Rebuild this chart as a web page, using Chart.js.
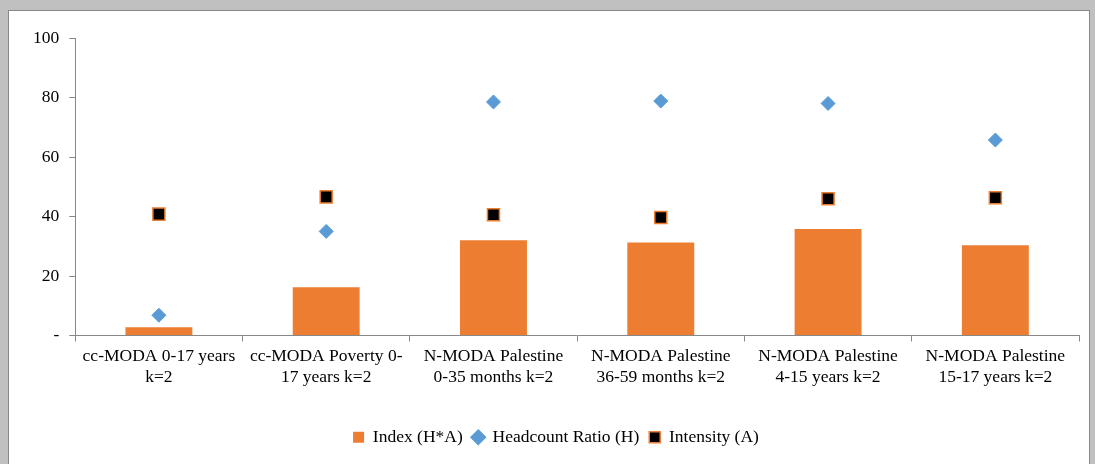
<!DOCTYPE html>
<html>
<head>
<meta charset="utf-8">
<script src="https://cdn.jsdelivr.net/npm/chart.js@4"></script>
<style>
  body { margin: 0; background: #c0c0c0; width: 1095px; height: 464px; overflow: hidden; }
  #box { position: absolute; left: 8px; top: 10px; width: 1080px; height: 470px; background: #fff; border: 1px solid #888; }
  #wrap { position: absolute; left: 0; top: 0; width: 1080px; height: 454px; }
</style>
</head>
<body>
<div id="box"><div id="wrap"><canvas id="c"></canvas></div></div>
<script>
// カテゴリと系列データ
const categories = [
  ["cc-MODA 0-17 years", "k=2"],
  ["cc-MODA Poverty 0-", "17 years k=2"],
  ["N-MODA Palestine", "0-35 months k=2"],
  ["N-MODA Palestine", "36-59 months k=2"],
  ["N-MODA Palestine", "4-15 years k=2"],
  ["N-MODA Palestine", "15-17 years k=2"]
];
const indexValues = [2.8, 16.2, 32.0, 31.3, 35.8, 30.3];
const headcountValues = [6.8, 35.0, 78.5, 78.8, 78.0, 65.7];
const intensityValues = [40.8, 46.6, 40.6, 39.7, 46.0, 46.3];
const yTicks = [0, 20, 40, 60, 80, 100];

const font = { family: "'Liberation Serif', 'Times New Roman', serif", size: 17.5 };
Chart.defaults.font = font;
Chart.defaults.color = "#000";

new Chart(document.getElementById("c"), {
  type: "bar",
  data: {
    labels: categories,
    datasets: [
      { label: "Index (H*A)", data: indexValues, backgroundColor: "#ed7d31", pointStyle: "rect",
        barPercentage: 0.4, categoryPercentage: 1.0, order: 3 },
      { type: "scatter", label: "Headcount Ratio (H)", data: headcountValues,
        pointStyle: "rectRot", pointRadius: 7, backgroundColor: "#5b9bd5", borderColor: "#5b9bd5", order: 2 },
      { type: "scatter", label: "Intensity (A)", data: intensityValues,
        pointStyle: "rect", pointRadius: 8.5, backgroundColor: "#000", borderColor: "#ed7d31", borderWidth: 1.5, order: 1 }
    ]
  },
  options: {
    responsive: true,
    maintainAspectRatio: false,
    animation: false,
    layout: { padding: { left: 14, right: 0, top: 27, bottom: 9 } },
    plugins: {
      tooltip: { enabled: false },
      legend: {
        position: "bottom",
        labels: { usePointStyle: true, boxWidth: 11, boxHeight: 11, padding: 10, font: font,
          sort: (a, b) => a.datasetIndex - b.datasetIndex }
      }
    },
    scales: {
      x: {
        offset: true,
        afterFit: axis => { axis.height += 27; },
        grid: { offset: true, drawOnChartArea: false, drawTicks: true, tickLength: 6, color: "#888" },
        border: { color: "#888" },
        ticks: { maxRotation: 0, autoSkip: false, padding: 4, font: font }
      },
      y: {
        min: 0, max: 100,
        afterBuildTicks: axis => { axis.ticks = yTicks.map(v => ({ value: v })); },
        grid: { drawOnChartArea: false, tickLength: 6, color: "#888" },
        border: { color: "#888" },
        ticks: { padding: 10, font: font, callback: v => v === 0 ? "-" : v }
      }
    }
  }
});
</script>
</body>
</html>
